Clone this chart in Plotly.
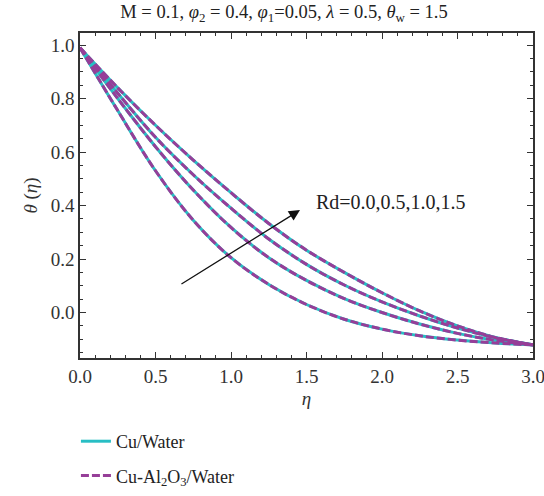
import plotly.graph_objects as go

eta = [0.0, 0.25, 0.5, 0.75, 1.0, 1.25, 1.5, 1.75, 2.0, 2.25, 2.5, 2.75, 3.0]
rd_values = ["0.0", "0.5", "1.0", "1.5"]
theta_rd00 = [0.99, 0.755, 0.53, 0.345, 0.205, 0.105, 0.03, -0.025, -0.062, -0.087, -0.103, -0.114, -0.121]
theta_rd05 = [0.99, 0.80, 0.62, 0.458, 0.318, 0.205, 0.12, 0.052, 0.0, -0.043, -0.078, -0.104, -0.121]
theta_rd10 = [0.99, 0.82, 0.655, 0.515, 0.39, 0.275, 0.18, 0.103, 0.04, -0.013, -0.058, -0.094, -0.121]
theta_rd15 = [0.99, 0.84, 0.70, 0.57, 0.448, 0.333, 0.233, 0.15, 0.074, 0.006, -0.05, -0.093, -0.121]
curves = [theta_rd00, theta_rd05, theta_rd10, theta_rd15]

x_ticks = [0.0, 0.5, 1.0, 1.5, 2.0, 2.5, 3.0]
y_ticks = [0.0, 0.2, 0.4, 0.6, 0.8, 1.0]

CYAN = "rgb(40,190,196)"
PURPLE = "rgb(150,62,152)"
FONT = "Liberation Serif"

fig = go.Figure()
for i, th in enumerate(curves):
    fig.add_trace(go.Scatter(
        x=eta, y=th, mode="lines", line=dict(color=CYAN, width=3, shape="spline", smoothing=1.0),
        name="Cu/Water", legendgroup="cu", showlegend=(i == 0)))
for i, th in enumerate(curves):
    fig.add_trace(go.Scatter(
        x=eta, y=th, mode="lines",
        line=dict(color=PURPLE, width=3, dash="8px,3px", shape="spline", smoothing=1.0),
        name="Cu-Al<sub>2</sub>O<sub>3</sub>/Water", legendgroup="cual", showlegend=(i == 0)))

axis_common = dict(
    showline=True, linecolor="#333", linewidth=1.5, mirror="ticks",
    ticks="inside", ticklen=6, tickcolor="#333", tickwidth=1,
    showgrid=False, zeroline=False, automargin=False, ticklabeloverflow="allow",
    tickfont=dict(family=FONT, size=19, color="#333"),
)

fig.update_xaxes(
    range=[0, 3], tickvals=x_ticks, ticktext=[f"{v:.1f}" for v in x_ticks],
    minor=dict(ticks="inside", dtick=0.1, ticklen=3, tickcolor="#333"),
    title=dict(text="<i>η</i>", font=dict(family=FONT, size=19, color="#333"), standoff=6),
    **axis_common)
fig.update_yaxes(
    range=[-0.17, 1.045], tickvals=y_ticks, ticktext=[f"{v:.1f}" for v in y_ticks],
    minor=dict(ticks="inside", dtick=0.05, ticklen=3, tickcolor="#333"),
    title=dict(text="<i>θ</i> (<i>η</i>)", font=dict(family=FONT, size=19, color="#333"), standoff=8),
    **axis_common)

fig.add_annotation(
    x=1.457, y=0.383, ax=0.662, ay=0.103, xref="x", yref="y", axref="x", ayref="y",
    text="", showarrow=True, arrowhead=2, arrowsize=1.7, arrowwidth=1.3, arrowcolor="#111")
fig.add_annotation(
    x=2.06, y=0.414, xref="x", yref="y", text="Rd=0.0,0.5,1.0,1.5", showarrow=False,
    font=dict(family=FONT, size=20, color="#222"))

fig.update_layout(
    width=544, height=496,
    margin=dict(l=80, r=11, t=33, b=138, autoexpand=False),
    paper_bgcolor="white", plot_bgcolor="white",
    title=dict(
        text="M = 0.1, <i>φ</i><sub>2</sub> = 0.4, <i>φ</i><sub>1</sub>=0.05, <i>λ</i> = 0.5, <i>θ</i><sub>w</sub> = 1.5",
        x=0.522, xanchor="center", y=0.976, yanchor="middle", automargin=False,
        font=dict(family=FONT, size=18.5, color="#222")),
    legend=dict(x=-0.009, xanchor="left", y=-0.2, yanchor="top",
                font=dict(family=FONT, size=18, color="#222"),
                traceorder="grouped", tracegroupgap=8, bgcolor="rgba(0,0,0,0)"),
    showlegend=True,
)

fig.write_html("out.html", config={"displayModeBar": False},
               post_script="document.body.style.margin='0';document.body.style.overflow='hidden';")
